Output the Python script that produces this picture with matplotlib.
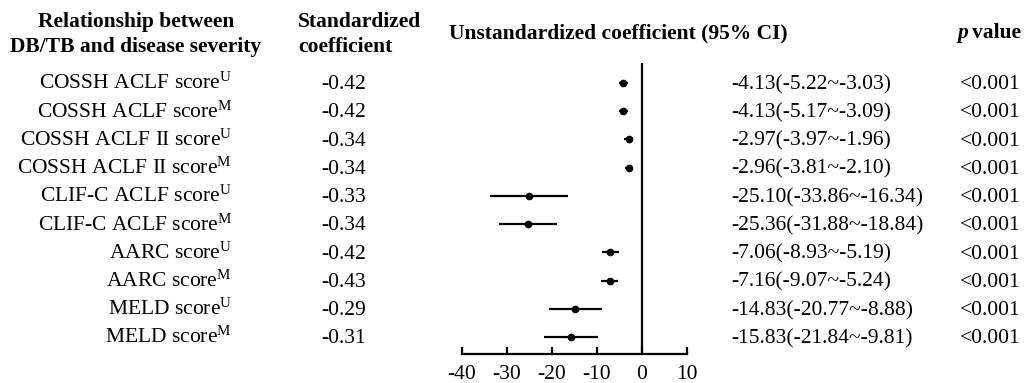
import matplotlib
matplotlib.use("Agg")
import matplotlib.pyplot as plt
from matplotlib.transforms import blended_transform_factory

plt.rcParams['font.family'] = ['Liberation Serif', 'DejaVu Serif']
plt.rcParams['mathtext.fontset'] = 'custom'
plt.rcParams['mathtext.rm'] = 'Liberation Serif'
plt.rcParams['mathtext.it'] = 'Liberation Serif:italic'
plt.rcParams['mathtext.bf'] = 'Liberation Serif:bold'
plt.rcParams['axes.unicode_minus'] = False

# data
labels = ['COSSH ACLF score', 'COSSH ACLF score', 'COSSH ACLF II score', 'COSSH ACLF II score',
          'CLIF-C ACLF score', 'CLIF-C ACLF score', 'AARC score', 'AARC score',
          'MELD score', 'MELD score']
sup = ['U', 'M', 'U', 'M', 'U', 'M', 'U', 'M', 'U', 'M']
std_coef = [-0.42, -0.42, -0.34, -0.34, -0.33, -0.34, -0.42, -0.43, -0.29, -0.31]
est = [-4.13, -4.13, -2.97, -2.96, -25.10, -25.36, -7.06, -7.16, -14.83, -15.83]
lo = [-5.22, -5.17, -3.97, -3.81, -33.86, -31.88, -8.93, -9.07, -20.77, -21.84]
hi = [-3.03, -3.09, -1.96, -2.10, -16.34, -18.84, -5.19, -5.24, -8.88, -9.81]
pvals = ['<0.001'] * 10
xticks = [-40, -30, -20, -10, 0, 10]

W, H = 1027, 383
fs = 15.5
fig = plt.figure(figsize=(W / 100, H / 100), dpi=100)

# forest axes (pixel layout)
left, right, top, bottom = 462, 687, 63, 354
ax = fig.add_axes([left / W, 1 - bottom / H, (right - left) / W, (bottom - top) / H])
n = len(est)
ax.set_xlim(-40, 10)
ax.set_ylim(n - 0.4, -0.71)

for i in range(n):
    ax.plot([lo[i], hi[i]], [i, i], color='black', lw=1.6, solid_capstyle='butt')
    ax.plot(est[i], i, 'o', color='black', markersize=4.5)
ax.axvline(0, color='black', lw=1.6)

for s in ['top', 'right', 'left']:
    ax.spines[s].set_visible(False)
ax.spines['bottom'].set_linewidth(1.6)
ax.set_yticks([])
ax.set_xticks(xticks)
ax.tick_params(axis='x', direction='in', length=5, width=1.6, labelsize=fs, pad=8)

# row text uses figure x and axes data y
tr = blended_transform_factory(fig.transFigure, ax.transData)
off = 0.22
for i in range(n):
    ax.text(232 / W, i + off, labels[i] + r'$^{\mathrm{' + sup[i] + '}}$', transform=tr,
            ha='right', va='baseline', fontsize=fs)
    ax.text(344 / W, i + off, f'{std_coef[i]:.2f}', transform=tr,
            ha='center', va='baseline', fontsize=fs)
    ax.text(731 / W, i + off, f'{est[i]:.2f}({lo[i]:.2f}~{hi[i]:.2f})', transform=tr,
            ha='left', va='baseline', fontsize=fs)
    ax.text(960 / W, i + off, pvals[i], transform=tr,
            ha='left', va='baseline', fontsize=fs)

# headers
def ftext(x, y, s, **kw):
    fig.text(x / W, 1 - y / H, s, fontsize=fs, fontweight='bold', va='center', **kw)

ftext(136, 22, 'Relationship between', ha='center')
ftext(136, 47, 'DB/TB and disease severity', ha='center')
ftext(298, 22, 'Standardized', ha='left')
ftext(298, 47, 'coefficient', ha='left')
ftext(618, 33, 'Unstandardized coefficient (95% CI)', ha='center')
fig.text(958 / W, 1 - 33 / H, 'p', fontsize=fs, fontweight='bold', fontstyle='italic',
         va='center', ha='left')
ftext(972, 33, 'value', ha='left')

fig.savefig('out.png', dpi=100)
